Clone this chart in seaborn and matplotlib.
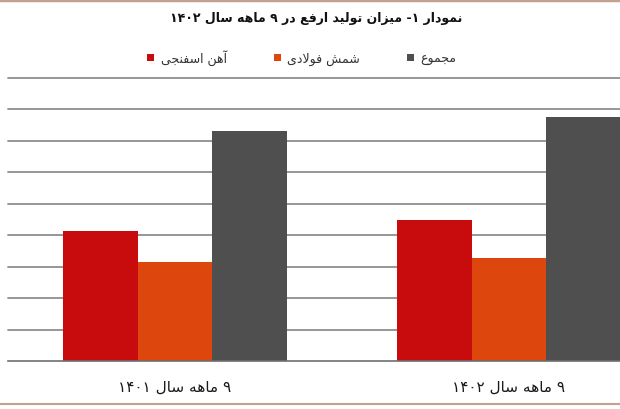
import re
import pandas as pd
import seaborn as sns
import matplotlib.pyplot as plt
from matplotlib.lines import Line2D
from matplotlib.patches import Patch

# chart data (thousand tons)
title = 'نمودار ۱- میزان تولید ارفع در ۹ ماهه سال ۱۴۰۲'
periods = ['۹ ماهه سال ۱۴۰۱', '۹ ماهه سال ۱۴۰۲']
products = ['آهن اسفنجی', 'شمش فولادی', 'مجموع']
sponge_iron = [830, 900]
steel_ingot = [630, 655]
total = [1460, 1555]
colors = ['#C80C0E', '#DD460C', '#4F4F4F']

# matplotlib has no arabic shaping, so pick presentation forms by hand
FORMS = {
    'ا': (0xFE8D, 0xFE8E), 'آ': (0xFE81, 0xFE82), 'د': (0xFEA9, 0xFEAA),
    'ر': (0xFEAD, 0xFEAE), 'ز': (0xFEAF, 0xFEB0), 'و': (0xFEED, 0xFEEE),
    'ت': (0xFE95, 0xFE96, 0xFE97, 0xFE98), 'ج': (0xFE9D, 0xFE9E, 0xFE9F, 0xFEA0),
    'س': (0xFEB1, 0xFEB2, 0xFEB3, 0xFEB4), 'ش': (0xFEB5, 0xFEB6, 0xFEB7, 0xFEB8),
    'ع': (0xFEC9, 0xFECA, 0xFECB, 0xFECC), 'ف': (0xFED1, 0xFED2, 0xFED3, 0xFED4),
    'ق': (0xFED5, 0xFED6, 0xFED7, 0xFED8), 'ل': (0xFEDD, 0xFEDE, 0xFEDF, 0xFEE0),
    'م': (0xFEE1, 0xFEE2, 0xFEE3, 0xFEE4), 'ن': (0xFEE5, 0xFEE6, 0xFEE7, 0xFEE8),
    'ه': (0xFEE9, 0xFEEA, 0xFEEB, 0xFEEC), 'ی': (0xFBFC, 0xFBFD, 0xFBFE, 0xFBFF),
}


def rtl(s):
    out = []
    i = 0
    while i < len(s):
        c = s[i]
        prev = s[i - 1] if i > 0 else ''
        nxt = s[i + 1] if i + 1 < len(s) else ''
        joins_prev = prev in FORMS and len(FORMS[prev]) == 4
        if c not in FORMS:
            out.append(c)
        elif c == 'ل' and nxt in ('ا', 'آ'):
            lig = (0xFEFB, 0xFEFC) if nxt == 'ا' else (0xFEF5, 0xFEF6)
            out.append(chr(lig[1] if joins_prev else lig[0]))
            i += 1
        else:
            f = FORMS[c]
            joins_next = len(f) == 4 and nxt in FORMS
            if joins_prev and joins_next:
                k = 3
            elif joins_prev:
                k = 1
            elif joins_next:
                k = 2
            else:
                k = 0
            out.append(chr(f[k]))
        i += 1
    tokens = re.findall(r'[0-9۰-۹]+|.', ''.join(out))
    return ''.join(reversed(tokens))


df = pd.DataFrame({
    'period': [rtl(p) for p in periods] * 3,
    'product': [rtl(products[0])] * 2 + [rtl(products[1])] * 2 + [rtl(products[2])] * 2,
    'value': sponge_iron + steel_ingot + total,
})

sns.set_style('white')
plt.rcParams['font.family'] = ['DejaVu Sans']

fig = plt.figure(figsize=(6.2, 4.1), dpi=100)
ax = fig.add_axes([8 / 620, 48 / 410, 612 / 620, 283 / 410])

sns.barplot(data=df, x='period', y='value', hue='product', palette=colors,
            width=0.67, saturation=1, linewidth=0, legend=False, ax=ax)

ax.set_ylim(0, 1800)
ax.set_yticks(range(200, 1801, 200))
ax.yaxis.grid(True, color='#8E8E8E', linewidth=1.3)
ax.set_axisbelow(True)
for gl in ax.get_ygridlines():
    gl.set_clip_on(False)
ax.set_yticklabels([])
ax.tick_params(axis='y', length=0)
ax.set_xlabel('')
ax.set_ylabel('')
for side in ['top', 'right', 'left']:
    ax.spines[side].set_visible(False)
ax.spines['bottom'].set_color('#6E6E6E')
ax.spines['bottom'].set_linewidth(1.2)

ax.set_xticks([-0.5, 0.5], minor=True)
ax.tick_params(axis='x', which='minor', length=5, color='#6E6E6E', width=1.2)
ax.tick_params(axis='x', which='major', length=0, pad=13, labelsize=11, labelcolor='#1A1A1A')

# the picture is cut at the right, half of the second group's slot is missing
ax.set_xlim(-0.5, -0.5 + 612 / 334)

fig.text(0.51, 0.955, rtl(title), ha='center', va='center', fontsize=9,
         fontweight='bold', color='#111111')

handles = [Patch(facecolor=c, edgecolor='none') for c in colors]
fig.legend(handles, [rtl(p) for p in products], loc='center', ncol=3,
           bbox_to_anchor=(0.487, 0.858), frameon=False, fontsize=9,
           handlelength=0.55, handleheight=0.55, handletextpad=0.5,
           columnspacing=3.8, labelcolor='#333333')

# thin tan border lines at the top and bottom of the picture
fig.add_artist(Line2D([0, 1], [0.997, 0.997], color='#C4A08E', linewidth=2.5))
fig.add_artist(Line2D([0, 1], [0.011, 0.011], color='#C4A08E', linewidth=1.5))

fig.savefig('out.png', dpi=100)
